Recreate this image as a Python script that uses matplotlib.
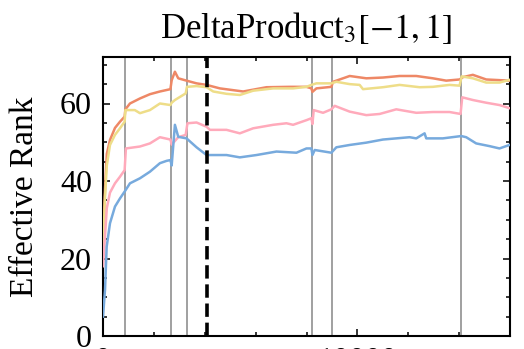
import matplotlib.pyplot as plt
from matplotlib.ticker import MultipleLocator

plt.rcParams['font.family'] = ['Liberation Serif', 'DejaVu Serif']
plt.rcParams['mathtext.fontset'] = 'stix'

# values (step, effective rank)
orange_x = [0, 80, 150, 275, 471, 667, 850, 880, 1060, 1453, 1845, 2238, 2650, 2700, 2827,
            2958, 3284, 3677, 4070, 4594, 5510, 6427, 7342, 7998, 8193, 8233, 8389, 8978,
            9043, 9698, 10352, 11006, 11661, 12315, 12969, 13492, 14017, 14147, 14539,
            15065, 15980]
orange_y = [25, 38, 47, 50.6, 53.7, 55.3, 56.6, 58.5, 60, 61.3, 62.4, 63.1, 63.7, 66, 68.2,
            66.5, 65.9, 65.2, 64.8, 63.9, 63.1, 64.2, 64.3, 64.3, 63.9, 63.0, 63.9, 64.3,
            65.6, 67.1, 66.5, 66.7, 67.1, 67.1, 66.5, 65.9, 66.2, 66.8, 67.4, 66.2, 65.9]

yellow_x = [0, 80, 150, 275, 471, 667, 850, 880, 1250, 1453, 1845, 2238, 2650, 2700, 2827,
            3250, 3300, 3677, 4070, 4332, 4856, 5379, 5902, 6689, 7473, 7998, 8193, 8389,
            8978, 9174, 9698, 10090, 10221, 11006, 11661, 12446, 12969, 13624, 14017, 14100,
            14539, 15065, 15587, 15980]
yellow_y = [22, 36, 44, 49.3, 51.9, 53.6, 55.3, 58.3, 58.3, 57.5, 58.3, 60, 59.6, 60.2, 60.9,
            62.6, 64.3, 64.5, 64.2, 63.1, 62.5, 62.2, 63.3, 63.9, 63.9, 64.3, 64.8, 65.2,
            65.2, 65.6, 65.0, 64.8, 63.7, 64.2, 64.8, 64.2, 64.3, 64.8, 64.6, 67.0,
            66.5, 65.4, 65.4, 66.1]

pink_x = [0, 80, 150, 275, 471, 667, 850, 900, 1453, 1845, 2238, 2650, 2700, 2958, 3250,
          3320, 3677, 4070, 4201, 4856, 5379, 5902, 6689, 7211, 7473, 7998, 8193, 8233,
          8284, 8651, 8978, 9109, 9698, 10352, 10876, 11530, 12053, 12315, 12969, 13624,
          14056, 14122, 14539, 15065, 15587, 15980]
pink_y = [18, 26, 33, 37, 39.4, 41.1, 42.8, 48.4, 48.9, 49.7, 51.3, 50.7, 49.4, 51.3, 51.9,
          54.9, 55.1, 54.0, 53.2, 53.2, 52.3, 53.6, 54.5, 54.9, 54.5, 55.7, 56.2, 54.7,
          58.3, 57.6, 58.5, 59.4, 57.9, 57.0, 57.3, 58.5, 57.9, 57.6, 57.8, 57.8,
          57.3, 61.6, 60.9, 60.2, 59.6, 58.8]

blue_x = [0, 80, 144, 275, 471, 667, 864, 1060, 1453, 1845, 2238, 2500, 2650, 2700, 2827,
          2958, 3284, 3677, 4070, 4201, 4856, 5379, 6033, 6819, 7604, 7998, 8193, 8233,
          8323, 8978, 9174, 9698, 10352, 11006, 11530, 12053, 12315, 12642, 12707, 13361,
          14083, 14278, 14670, 15195, 15587, 15980]
blue_y = [5, 12, 23, 29.1, 33.4, 35.5, 37.4, 39.4, 40.7, 42.4, 44.6, 45.2, 45.4, 44.0, 54.5,
          51.4, 51.0, 48.7, 46.7, 46.7, 46.7, 46.1, 46.7, 47.6, 47.3, 48.4, 48.4, 46.7,
          48.0, 47.3, 48.7, 49.3, 49.9, 50.7, 51.0, 51.3, 51.0, 52.3, 51.0, 51.0,
          51.6, 51.3, 49.7, 49.0, 48.4, 49.3]

events = [864, 2670, 3298, 8225, 9000, 14060]
marker_step = 4083

fig = plt.figure(figsize=(5.24, 3.49), dpi=100)
ax = fig.add_axes([103 / 524, 1 - 336 / 349, 407 / 524, 279 / 349])

for e in events:
    ax.axvline(e, color='#909090', lw=1.2, zorder=1)
ax.plot(orange_x, orange_y, color='#EE8866', lw=1.8, zorder=3)
ax.plot(yellow_x, yellow_y, color='#EEDD88', lw=1.8, zorder=3)
ax.plot(pink_x, pink_y, color='#FFAABB', lw=1.8, zorder=3)
ax.plot(blue_x, blue_y, color='#77AADD', lw=1.8, zorder=3)
ax.axvline(marker_step, color='black', lw=2.6, ls='--', zorder=4)

ax.set_xlim(0, 16000)
ax.set_ylim(0, 72)
ax.xaxis.set_major_locator(MultipleLocator(10000))
ax.xaxis.set_minor_locator(MultipleLocator(2000))
ax.yaxis.set_major_locator(MultipleLocator(20))
ax.yaxis.set_minor_locator(MultipleLocator(5))
ax.tick_params(which='both', direction='in', top=True, right=True, width=1.1, labelsize=23)
ax.tick_params(which='major', length=5, pad=8)
ax.tick_params(which='minor', length=3)
ax.tick_params(axis='x', which='major', pad=7.8)
for s in ax.spines.values():
    s.set_linewidth(1.5)

ax.set_ylabel('Effective Rank', fontsize=24, labelpad=14)
ax.set_title(r'DeltaProduct$_3[-1, 1]$', fontsize=25, pad=14)

plt.savefig('out.png', dpi=100)
plt.close()
